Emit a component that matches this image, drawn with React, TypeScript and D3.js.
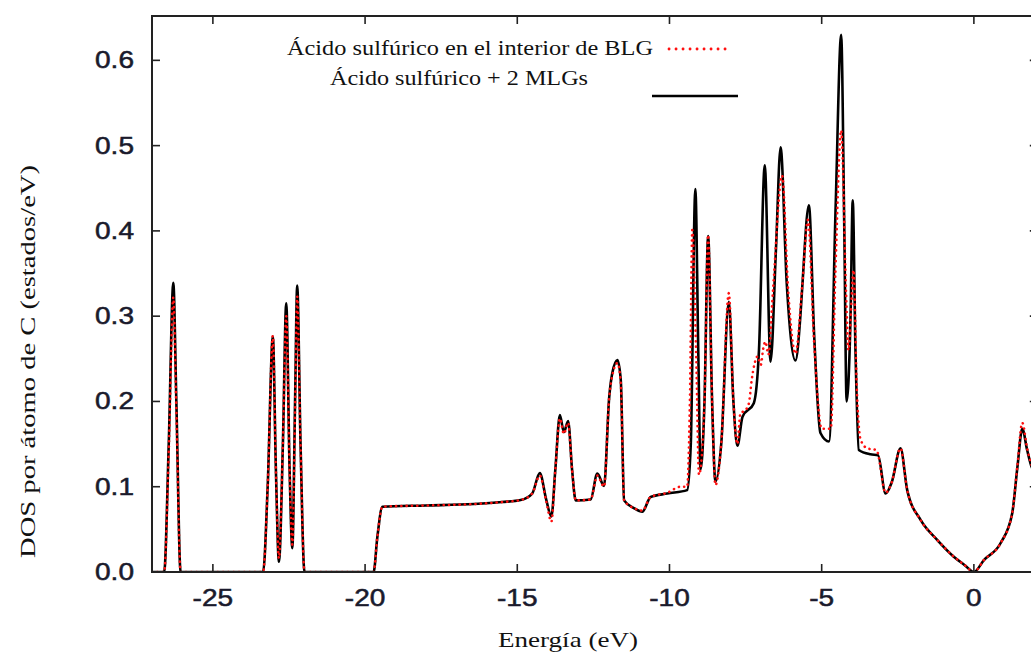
import React from "react";
import * as d3 from "d3";

// Black: "Ácido sulfúrico + 2 MLGs"
const blackE = [
  -27.0, -26.6, -26.45, -26.3, -26.2, -26.06,
  -23.35, -23.2, -23.03, -22.93, -22.83, -22.7, -22.59, -22.48, -22.39, -22.3, -22.23, -22.12, -21.99,
  -19.72, -19.6, -19.43, -18.0, -16.42, -15.5, -14.89, -14.51, -14.26, -14.05, -13.88, -13.75, -13.6, -13.47, -13.33, -13.2, -13.08,
  -12.59, -12.37, -12.15, -11.98, -11.88, -11.71, -11.6, -11.49, -11.17, -10.89, -10.62, -10.07, -9.42,
  -9.3, -9.15, -9.05, -8.98, -8.85, -8.73, -8.6, -8.49, -8.3, -8.05, -7.9, -7.77, -7.6, -7.23, -7.06,
  -6.87, -6.68, -6.5, -6.35, -6.15, -5.86, -5.7, -5.64, -5.42, -5.25, -5.04, -4.76, -4.54, -4.36, -4.26, -4.18,
  -4.05, -3.98, -3.89, -3.78, -3.4, -3.15, -2.9, -2.7, -2.41, -2.19, -1.75, -1.2, -0.66, -0.3, 0.0,
  0.33, 0.88, 1.26, 1.43, 1.59, 1.75, 1.9, 2.2,
];
const blackDOS = [
  0, 0, 0.15, 0.339, 0.2, 0,
  0, 0.1, 0.276, 0.12, 0.012, 0.15, 0.315, 0.12, 0.028, 0.2, 0.336, 0.15, 0,
  0, 0.04, 0.0766, 0.078, 0.0797, 0.082, 0.0844, 0.092, 0.116, 0.085, 0.065, 0.12, 0.184, 0.164, 0.177, 0.12, 0.084,
  0.085, 0.1155, 0.101, 0.205, 0.233, 0.2485, 0.225, 0.084, 0.075, 0.0707, 0.088, 0.092, 0.096,
  0.15, 0.449, 0.25, 0.12, 0.2, 0.394, 0.2, 0.106, 0.15, 0.317, 0.2, 0.148, 0.182, 0.198, 0.26,
  0.477, 0.2466, 0.38, 0.498, 0.34, 0.248, 0.3, 0.333, 0.43, 0.28, 0.163, 0.153, 0.43, 0.63, 0.41, 0.2,
  0.303, 0.436, 0.26, 0.143, 0.138, 0.137, 0.092, 0.105, 0.145, 0.096, 0.061, 0.0375, 0.018, 0.008, 0,
  0.014, 0.034, 0.069, 0.123, 0.168, 0.143, 0.123, 0.11,
];

// Red dotted: "Ácido sulfúrico en el interior de BLG"
const redE = [
  -27.0, -26.6, -26.45, -26.3, -26.2, -26.06,
  -23.35, -23.2, -23.03, -22.93, -22.83, -22.7, -22.59, -22.48, -22.39, -22.3, -22.23, -22.12, -21.99,
  -19.72, -19.6, -19.43, -18.0, -16.42, -15.5, -14.89, -14.51, -14.26, -14.05, -13.88, -13.75, -13.6, -13.47, -13.33, -13.2, -13.08,
  -12.59, -12.37, -12.15, -11.98, -11.88, -11.71, -11.6, -11.49, -11.17, -10.89, -10.62, -10.07, -9.64, -9.42,
  -9.33, -9.25, -9.12, -9.03, -8.85, -8.73, -8.6, -8.49, -8.3, -8.05, -7.9, -7.77, -7.67, -7.5, -7.39, -7.3, -7.2, -7.1, -7.0,
  -6.92, -6.85, -6.75, -6.6, -6.3, -6.1, -5.86, -5.64, -5.45, -5.25, -5.0, -4.7, -4.55, -4.36, -4.2, -4.12,
  -3.95, -3.85, -3.72, -3.5, -3.2, -2.9, -2.7, -2.41, -2.19, -1.75, -1.2, -0.66, -0.3, 0.0,
  0.33, 0.88, 1.26, 1.43, 1.59, 1.75, 1.9, 2.2,
];
const redDOS = [
  0, 0, 0.14, 0.322, 0.19, 0,
  0, 0.1, 0.277, 0.12, 0.016, 0.15, 0.3, 0.12, 0.032, 0.19, 0.323, 0.15, 0,
  0, 0.04, 0.0766, 0.078, 0.0797, 0.082, 0.0844, 0.092, 0.113, 0.083, 0.059, 0.12, 0.18, 0.162, 0.175, 0.12, 0.084,
  0.085, 0.113, 0.1, 0.205, 0.23, 0.245, 0.222, 0.084, 0.075, 0.072, 0.088, 0.093, 0.1, 0.1,
  0.2, 0.401, 0.25, 0.114, 0.2, 0.395, 0.2, 0.102, 0.15, 0.327, 0.2, 0.15, 0.186, 0.19, 0.198, 0.225, 0.245, 0.253, 0.243,
  0.262, 0.27, 0.255, 0.33, 0.465, 0.33, 0.256, 0.335, 0.413, 0.27, 0.168, 0.168, 0.35, 0.518, 0.33, 0.26,
  0.354, 0.22, 0.155, 0.145, 0.143, 0.093, 0.105, 0.145, 0.096, 0.061, 0.0375, 0.018, 0.008, 0,
  0.014, 0.034, 0.069, 0.125, 0.175, 0.145, 0.125, 0.11,
];

const xTicks = [-25, -20, -15, -10, -5, 0];
const yTicks = [0.0, 0.1, 0.2, 0.3, 0.4, 0.5, 0.6];
const xTickLabels = ["-25", "-20", "-15", "-10", "-5", "0"];
const yTickLabels = ["0.0", "0.1", "0.2", "0.3", "0.4", "0.5", "0.6"];

const legendRed = "Ácido sulfúrico en el interior de BLG";
const legendBlack = "Ácido sulfúrico + 2 MLGs";
const xTitle = "Energía (eV)";
const yTitle = "DOS por átomo de C (estados/eV)";

export default function App() {
  const W = 1031;
  const H = 652;
  const left = 152;
  const top = 16;
  const bottom = 572;
  const x = d3.scaleLinear().domain([-27, 2.1]).range([left, left + 29.1 * 30.44]);
  const y = d3.scaleLinear().domain([0, 0.652]).range([bottom, top]);
  const right = x(2.1);

  const line = d3
    .line<[number, number]>()
    .x((d) => x(d[0]))
    .y((d) => y(d[1]))
    .curve(d3.curveMonotoneX);

  const blackData = blackE.map((e, i) => [e, blackDOS[i]] as [number, number]);
  const redData = redE.map((e, i) => [e, redDOS[i]] as [number, number]);

  const tickFont = "'Liberation Sans', Arial, sans-serif";
  const serif = "'Liberation Serif', 'DejaVu Serif', serif";
  const tickColor = "#1a1a2c";

  return (
    <svg
      width={W}
      height={H}
      style={{ position: "absolute", left: 0, top: 0, background: "#fff" }}
    >
      <defs>
        <clipPath id="plot">
          <rect x={left} y={top} width={right - left} height={bottom - top} />
        </clipPath>
      </defs>
      <rect x={0} y={0} width={W} height={H} fill="#fff" />

      <g clipPath="url(#plot)">
        <path d={line(blackData) || ""} fill="none" stroke="#000" strokeWidth={2.6} strokeLinejoin="round" />
        <path
          d={line(redData) || ""}
          fill="none"
          stroke="#ff1010"
          strokeWidth={2.6}
          strokeDasharray="0.1 5.2"
          strokeLinecap="round"
        />
      </g>

      {/* frame */}
      <rect x={left} y={top} width={right - left} height={bottom - top} fill="none" stroke="#222" strokeWidth={2} />

      {/* x ticks */}
      {xTicks.map((t, i) => (
        <g key={"xt" + i}>
          <line x1={x(t)} x2={x(t)} y1={bottom} y2={bottom - 8} stroke="#222" strokeWidth={1.6} />
          <line x1={x(t)} x2={x(t)} y1={top} y2={top + 8} stroke="#222" strokeWidth={1.6} />
          <g transform={`translate(${x(t)},${606}) scale(1.22,1)`}>
            <text
              textAnchor="middle"
              fontFamily={tickFont}
              fontSize={23}
              fill={tickColor}
              stroke={tickColor}
              strokeWidth={0.5}
            >
              {xTickLabels[i]}
            </text>
          </g>
        </g>
      ))}

      {/* y ticks */}
      {yTicks.map((t, i) => (
        <g key={"yt" + i}>
          {t > 0 && (
            <>
              <line x1={left} x2={left + 8} y1={y(t)} y2={y(t)} stroke="#222" strokeWidth={1.6} />
              <line x1={right} x2={right - 8} y1={y(t)} y2={y(t)} stroke="#222" strokeWidth={1.6} />
            </>
          )}
          <g transform={`translate(${134},${y(t) + 8}) scale(1.22,1)`}>
            <text
              textAnchor="end"
              fontFamily={tickFont}
              fontSize={23}
              fill={tickColor}
              stroke={tickColor}
              strokeWidth={0.5}
            >
              {yTickLabels[i]}
            </text>
          </g>
        </g>
      ))}

      {/* axis titles */}
      <text
        x={498}
        y={647}
        fontFamily={serif}
        fontSize={22}
        fill="#111"
        textLength={140}
        lengthAdjust="spacingAndGlyphs"
      >
        {xTitle}
      </text>
      <text
        transform={`translate(35,${558}) rotate(-90)`}
        fontFamily={serif}
        fontSize={22}
        fill="#111"
        textLength={393}
        lengthAdjust="spacingAndGlyphs"
      >
        {yTitle}
      </text>

      {/* legend */}
      <text
        x={287}
        y={55}
        fontFamily={serif}
        fontSize={21}
        fill="#111"
        textLength={366}
        lengthAdjust="spacingAndGlyphs"
      >
        {legendRed}
      </text>
      <line
        x1={669}
        x2={732}
        y1={49}
        y2={49}
        stroke="#ff1010"
        strokeWidth={2.8}
        strokeDasharray="0.1 6.9"
        strokeLinecap="round"
      />
      <text
        x={330}
        y={85}
        fontFamily={serif}
        fontSize={21}
        fill="#111"
        textLength={258}
        lengthAdjust="spacingAndGlyphs"
      >
        {legendBlack}
      </text>
      <line x1={652} x2={738} y1={96} y2={96} stroke="#000" strokeWidth={2.6} />
    </svg>
  );
}
